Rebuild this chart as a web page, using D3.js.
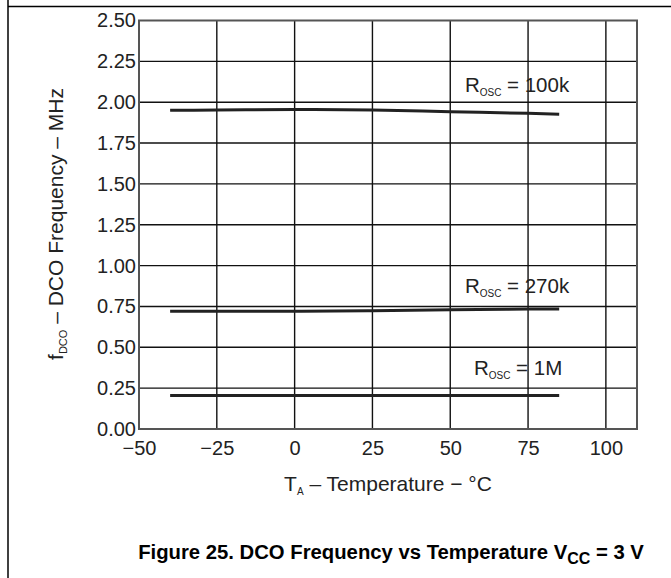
<!DOCTYPE html>
<html><head><meta charset="utf-8">
<script src="https://cdn.jsdelivr.net/npm/d3@7"></script>
<style>
html,body{margin:0;padding:0;background:#fff;}
svg{display:block;font-family:"Liberation Sans",Arial,sans-serif;}
</style></head>
<body><svg id="c" width="671" height="578"></svg>
<script>
const temps = [-40, -25, 0, 25, 50, 75, 85];
const f100k = [1.950, 1.952, 1.955, 1.952, 1.942, 1.932, 1.927];
const f270k = [0.720, 0.720, 0.720, 0.724, 0.730, 0.734, 0.735];
const f1M   = [0.205, 0.205, 0.205, 0.205, 0.205, 0.205, 0.205];
const seriesNames = ["100k", "270k", "1M"];
const labelAnchors = [[54.7, 2.062], [54.7, 0.832], [57.6, 0.33]];
const xTicks = [-50, -25, 0, 25, 50, 75, 100];
const yTicks = [0, 0.25, 0.5, 0.75, 1.0, 1.25, 1.5, 1.75, 2.0, 2.25, 2.5];

const svg = d3.select("#c");
const L = 139, R = 637, T = 20.5, B = 429;
const x = d3.scaleLinear().domain([-50, 110]).range([L, R]);
const y = d3.scaleLinear().domain([0, 2.5]).range([B, T]);

svg.append("line").attr("x1", 8).attr("x2", 8).attr("y1", 0).attr("y2", 578).attr("stroke", "#000").attr("stroke-width", 1.5);
svg.append("line").attr("x1", 8).attr("x2", 671).attr("y1", 6.5).attr("y2", 6.5).attr("stroke", "#000").attr("stroke-width", 1.5);

const g = svg.append("g");
g.selectAll(".vx").data(xTicks.filter(d => d > -50)).join("line")
  .attr("x1", d => x(d)).attr("x2", d => x(d)).attr("y1", T).attr("y2", B)
  .attr("stroke", "#111").attr("stroke-width", 1.4);
g.selectAll(".hy").data(yTicks.filter(d => d > 0 && d < 2.5)).join("line")
  .attr("x1", L).attr("x2", R).attr("y1", d => y(d)).attr("y2", d => y(d))
  .attr("stroke", "#111").attr("stroke-width", 1.4);

const xAxis = d3.axisBottom(x).tickValues(xTicks).tickSize(0).tickPadding(12).tickFormat(d3.format("d"));
const xa = svg.append("g").attr("transform", `translate(0,${B})`).call(xAxis);
xa.select(".domain").remove();
xa.selectAll("text").attr("font-size", 20).attr("fill", "#222").attr("font-family", "Liberation Sans, Arial, sans-serif");

const yAxis = d3.axisLeft(y).tickValues(yTicks).tickSize(0).tickPadding(3).tickFormat(d3.format(".2f"));
const ya = svg.append("g").attr("transform", `translate(${L},0)`).call(yAxis);
ya.select(".domain").remove();
ya.selectAll("text").attr("font-size", 20).attr("fill", "#222").attr("font-family", "Liberation Sans, Arial, sans-serif");

svg.append("rect").attr("x", L).attr("y", T).attr("width", R - L).attr("height", B - T)
  .attr("fill", "none").attr("stroke", "#555").attr("stroke-width", 2);

const line = d3.line().x((d, i) => x(temps[i])).y(d => y(d)).curve(d3.curveMonotoneX);
[f100k, f270k, f1M].forEach(s => {
  svg.append("path").attr("d", line(s)).attr("fill", "none").attr("stroke", "#222").attr("stroke-width", 3);
});

seriesNames.forEach((n, i) => {
  const t = svg.append("text").attr("x", x(labelAnchors[i][0])).attr("y", y(labelAnchors[i][1]))
    .attr("font-size", 20.5).attr("fill", "#222");
  t.append("tspan").text("R");
  t.append("tspan").attr("font-size", 10).attr("dy", 4).text("OSC");
  t.append("tspan").attr("dy", -4).text(" = " + n);
});

const xt = svg.append("text").attr("x", (L + R) / 2).attr("y", 491).attr("text-anchor", "middle")
  .attr("font-size", 21).attr("fill", "#222");
xt.append("tspan").text("T");
xt.append("tspan").attr("font-size", 10).attr("dy", 4).text("A");
xt.append("tspan").attr("dy", -4).text(" – Temperature − °C");

const yt = svg.append("text").attr("transform", `translate(63,224) rotate(-90)`)
  .attr("text-anchor", "middle").attr("font-size", 21).attr("fill", "#222");
yt.append("tspan").text("f");
yt.append("tspan").attr("font-size", 11).attr("dy", 4).text("DCO");
yt.append("tspan").attr("dy", -4).text(" – DCO Frequency – MHz");

const ft = svg.append("text").attr("x", 391).attr("y", 559).attr("text-anchor", "middle")
  .attr("font-size", 20.3).attr("font-weight", "bold").attr("fill", "#000");
ft.append("tspan").text("Figure 25. DCO Frequency vs Temperature V");
ft.append("tspan").attr("font-size", 16).attr("dy", 5).text("CC");
ft.append("tspan").attr("dy", -5).text(" = 3 V");
</script></body></html>
